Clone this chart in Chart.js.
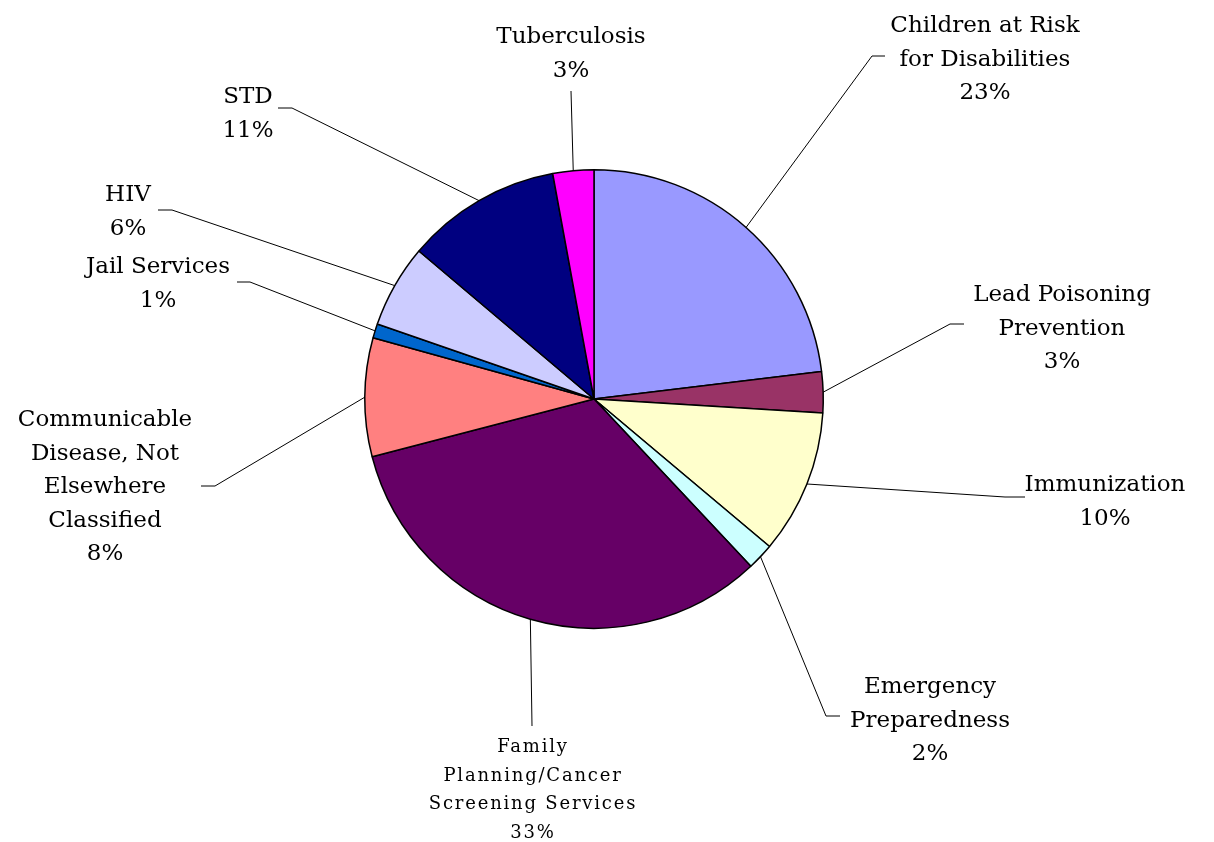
<!DOCTYPE html>
<html>
<head>
<meta charset="utf-8">
<script src="https://cdn.jsdelivr.net/npm/chart.js@4.4.0/dist/chart.umd.min.js"></script>
<style>
  html, body { margin: 0; padding: 0; background: #fff; }
  #wrap { width: 1214px; height: 842px; }
</style>
</head>
<body>
<div id="wrap"><canvas id="pieChart" width="1214" height="842"></canvas></div>
<script>
// data
const categories = [
  'Children at Risk for Disabilities',
  'Lead Poisoning Prevention',
  'Immunization',
  'Emergency Preparedness',
  'Family Planning/Cancer Screening Services',
  'Communicable Disease, Not Elsewhere Classified',
  'Jail Services',
  'HIV',
  'STD',
  'Tuberculosis'
];
const shares = [23.2, 2.9, 10.2, 1.9, 33.1, 8.4, 1.0, 5.9, 11.0, 2.9];
const sliceColors = ['#9999FF', '#993366', '#FFFFCC', '#CCFFFF', '#660066',
                     '#FF8080', '#0066CC', '#CCCCFF', '#000080', '#FF00FF'];

// how each label wraps onto lines
const labelLines = [
  ['Children at Risk', 'for Disabilities'],
  ['Lead Poisoning', 'Prevention'],
  ['Immunization'],
  ['Emergency', 'Preparedness'],
  ['Family', 'Planning/Cancer', 'Screening Services'],
  ['Communicable', 'Disease, Not', 'Elsewhere', 'Classified'],
  ['Jail Services'],
  ['HIV'],
  ['STD'],
  ['Tuberculosis']
];

// label layout: text centre x, first baseline y, elbow point, end of short horizontal tick
const labelPos = [
  { x: 985, y: 32, ex: 872, ey: 56, hx: 885 },
  { x: 1062, y: 301, ex: 950, ey: 324, hx: 964 },
  { x: 1105, y: 491, ex: 1005, ey: 497, hx: 1025 },
  { x: 930, y: 693, ex: 826, ey: 716, hx: 840 },
  { x: 533, y: 752, ex: 532, ey: 726, hx: 532 },
  { x: 105, y: 426, ex: 215, ey: 486, hx: 201 },
  { x: 158, y: 273, ex: 250, ey: 282, hx: 237 },
  { x: 128, y: 201, ex: 172, ey: 210, hx: 158 },
  { x: 248, y: 103, ex: 292, ey: 108, hx: 278 },
  { x: 571, y: 43, ex: 571, ey: 91, hx: 571 }
];

const outsideLabels = {
  id: 'outsideLabels',
  afterDraw(chart) {
    const ctx = chart.ctx;
    const arcs = chart.getDatasetMeta(0).data;
    const vals = chart.data.datasets[0].data;
    const total = vals.reduce((a, b) => a + b, 0);
    ctx.save();
    arcs.forEach((arc, i) => {
      const p = labelPos[i];
      const mid = (arc.startAngle + arc.endAngle) / 2;
      const sx = arc.x + Math.cos(mid) * arc.outerRadius;
      const sy = arc.y + Math.sin(mid) * arc.outerRadius;
      ctx.strokeStyle = '#000';
      ctx.lineWidth = 1;
      ctx.beginPath();
      ctx.moveTo(sx, sy);
      ctx.lineTo(p.ex, p.ey);
      ctx.lineTo(p.hx, p.ey);
      ctx.stroke();

      const lines = labelLines[i].concat([Math.round(vals[i] / total * 100) + '%']);
      const small = i === 4;
      ctx.fillStyle = '#000';
      ctx.textAlign = 'center';
      ctx.textBaseline = 'alphabetic';
      ctx.font = small ? '18px "DejaVu Serif"' : '23px "DejaVu Serif"';
      ctx.letterSpacing = small ? '1.8px' : '0px';
      const step = small ? 28.7 : 33.5;
      lines.forEach((t, k) => ctx.fillText(t, p.x, p.y + k * step));
    });
    ctx.restore();
  }
};

new Chart(document.getElementById('pieChart'), {
  type: 'pie',
  data: {
    labels: categories,
    datasets: [{
      data: shares,
      backgroundColor: sliceColors,
      borderColor: '#000',
      borderWidth: 1.5
    }]
  },
  options: {
    responsive: false,
    animation: false,
    layout: { padding: { top: 169, bottom: 213, left: 364, right: 390 } },
    plugins: {
      legend: { display: false },
      tooltip: { enabled: false }
    }
  },
  plugins: [outsideLabels]
});
</script>
</body>
</html>
